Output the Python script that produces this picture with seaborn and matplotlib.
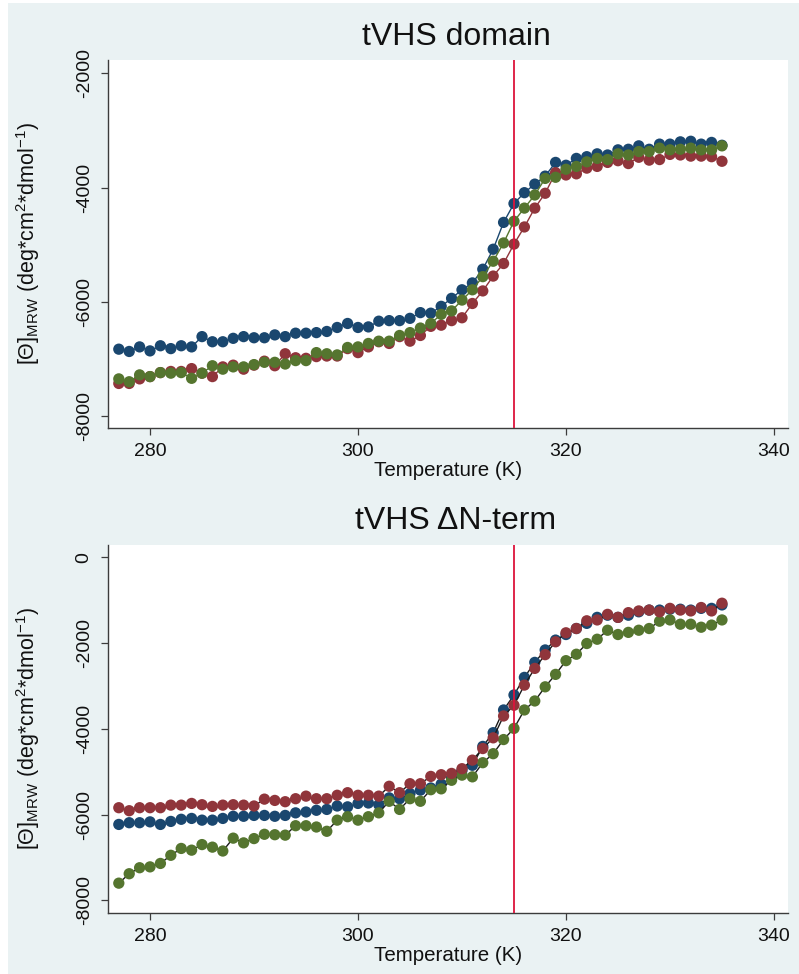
import matplotlib
matplotlib.use("Agg")
import matplotlib.pyplot as plt
import seaborn as sns
import pandas as pd

# Temperature scan (K)
temperature = [277, 278, 279, 280, 281, 282, 283, 284, 285, 286, 287, 288, 289, 290,
               291, 292, 293, 294, 295, 296, 297, 298, 299, 300, 301, 302, 303, 304,
               305, 306, 307, 308, 309, 310, 311, 312, 313, 314, 315, 316, 317, 318,
               319, 320, 321, 322, 323, 324, 325, 326, 327, 328, 329, 330, 331, 332,
               333, 334, 335]

# tVHS domain: mean residue ellipticity
domain_navy = [-6830, -6870, -6790, -6860, -6770, -6820, -6770, -6790, -6610, -6700,
               -6700, -6640, -6610, -6630, -6630, -6580, -6610, -6550, -6550, -6540,
               -6520, -6450, -6380, -6450, -6440, -6340, -6330, -6330, -6290, -6190,
               -6200, -6080, -5940, -5790, -5670, -5430, -5080, -4610, -4280, -4090,
               -3940, -3800, -3560, -3610, -3490, -3460, -3410, -3430, -3340, -3330,
               -3270, -3330, -3240, -3240, -3200, -3190, -3240, -3210, -3260]
domain_maroon = [-7430, -7430, -7350, -7310, -7240, -7220, -7220, -7170, -7250, -7310,
                 -7140, -7110, -7180, -7110, -7040, -7120, -6910, -6980, -6990, -6960,
                 -6950, -6950, -6820, -6890, -6790, -6700, -6730, -6610, -6690, -6590,
                 -6430, -6410, -6330, -6280, -6030, -5810, -5550, -5330, -4990, -4690,
                 -4360, -4100, -3740, -3780, -3760, -3660, -3630, -3560, -3530, -3580,
                 -3470, -3520, -3510, -3420, -3430, -3450, -3450, -3460, -3540]
domain_green = [-7350, -7400, -7280, -7310, -7240, -7250, -7240, -7340, -7250, -7120,
                -7180, -7140, -7140, -7100, -7060, -7060, -7090, -7030, -7030, -6890,
                -6910, -6930, -6800, -6790, -6730, -6690, -6690, -6590, -6540, -6460,
                -6380, -6220, -6160, -5970, -5790, -5560, -5290, -4970, -4590, -4360,
                -4130, -3840, -3820, -3680, -3630, -3550, -3490, -3510, -3410, -3430,
                -3370, -3370, -3310, -3340, -3330, -3310, -3340, -3340, -3270]

# tVHS delta N-term: mean residue ellipticity
nterm_navy = [-6230, -6190, -6190, -6170, -6230, -6160, -6110, -6090, -6130, -6130,
              -6090, -6040, -6040, -6020, -6020, -6040, -6020, -5960, -5940, -5900,
              -5880, -5800, -5820, -5740, -5730, -5770, -5610, -5630, -5510, -5430,
              -5380, -5290, -5140, -4970, -4850, -4410, -4090, -3560, -3210, -2800,
              -2450, -2160, -1930, -1800, -1660, -1540, -1400, -1350, -1400, -1350,
              -1270, -1230, -1230, -1210, -1210, -1230, -1190, -1190, -1110]
nterm_maroon = [-5840, -5910, -5840, -5840, -5840, -5780, -5780, -5740, -5770, -5810,
                -5780, -5770, -5780, -5800, -5640, -5670, -5700, -5630, -5570, -5630,
                -5630, -5550, -5490, -5550, -5550, -5570, -5340, -5490, -5280, -5280,
                -5110, -5070, -5040, -4930, -4730, -4460, -4210, -3700, -3450, -2980,
                -2590, -2270, -1970, -1760, -1660, -1480, -1460, -1330, -1400, -1290,
                -1250, -1230, -1270, -1190, -1230, -1250, -1170, -1250, -1070]
nterm_green = [-7600, -7380, -7240, -7220, -7140, -6950, -6790, -6830, -6700, -6760,
               -6850, -6550, -6660, -6560, -6460, -6470, -6480, -6260, -6260, -6290,
               -6390, -6130, -6050, -6130, -6050, -5960, -5690, -5880, -5630, -5690,
               -5420, -5400, -5200, -5080, -5120, -4790, -4580, -4250, -3990, -3560,
               -3350, -3020, -2730, -2410, -2260, -2010, -1910, -1700, -1800, -1750,
               -1700, -1660, -1490, -1460, -1560, -1560, -1630, -1580, -1460]

panel_titles = ["tVHS domain", "tVHS \u0394N-term"]
x_ticks = [280, 300, 320, 340]
y_ticks_top = [-2000, -4000, -6000, -8000]
y_ticks_bottom = [0, -2000, -4000, -6000, -8000]
midpoint_temp = 315

NAVY = "#1A476F"
MAROON = "#90353B"
GREEN = "#55752F"
BG = "#EAF2F3"

sns.set_theme(style="white")
plt.rcParams["font.family"] = ["Liberation Sans", "DejaVu Sans"]
plt.rcParams["mathtext.fontset"] = "custom"
plt.rcParams["mathtext.rm"] = "Liberation Sans"
plt.rcParams["axes.unicode_minus"] = False

W, H = 799, 974
fig = plt.figure(figsize=(W / 100, H / 100), dpi=100, facecolor=BG)
# thin white margin along the left and top edges
fig.patches.append(plt.Rectangle((0, 0), 8 / W, 1, transform=fig.transFigure,
                                 facecolor="white", edgecolor="none", zorder=-1))
fig.patches.append(plt.Rectangle((0, 1 - 3 / H), 1, 3 / H, transform=fig.transFigure,
                                 facecolor="white", edgecolor="none", zorder=-1))


def make_axes(top_px, bottom_px):
    return fig.add_axes([108 / W, 1 - bottom_px / H, 680 / W, (bottom_px - top_px) / H])


ax_top = make_axes(60, 428)
ax_bot = make_axes(545, 913)

ylabel = ("[\u0398]$_{\\mathregular{MRW}}$ (deg*cm$^{\\mathregular{2}}$"
          "*dmol$^{\\mathregular{-1}}$)")


def draw_panel(ax, series, line_colors, ylim, yticks, title, title_y):
    for i, (vals, col, lcol) in enumerate(zip(series["values"], series["colors"], line_colors)):
        df = pd.DataFrame({"T": temperature, "v": vals})
        sns.lineplot(data=df, x="T", y="v", ax=ax, color=lcol, lw=1.0,
                     estimator=None, sort=False, zorder=2 + 2 * i)
        sns.scatterplot(data=df, x="T", y="v", ax=ax, color=col, s=66,
                        edgecolor="none", linewidth=0, zorder=3 + 2 * i)
    ax.axvline(midpoint_temp, color="#DC143C", lw=1.3, zorder=10)
    ax.set_xlim(275.96, 341.35)
    ax.set_ylim(*ylim)
    ax.set_xticks(x_ticks)
    ax.set_yticks(yticks)
    ax.set_facecolor("white")
    for s in ["top", "right"]:
        ax.spines[s].set_visible(False)
    for s in ["left", "bottom"]:
        ax.spines[s].set_color("#3C3C3C")
        ax.spines[s].set_linewidth(1.0)
    ax.tick_params(axis="both", which="major", length=5, width=0.9, color="#3C3C3C",
                   labelsize=14, labelcolor="#111111", direction="out")
    ax.tick_params(axis="x", pad=6, bottom=True)
    ax.tick_params(axis="y", pad=6, left=True)
    for lab in ax.get_yticklabels():
        lab.set_rotation(90)
        lab.set_va("center")
    ax.set_xlabel("Temperature (K)", fontsize=14.8, color="#111111")
    ax.xaxis.set_label_coords(0.5, -0.09)
    ax.set_ylabel(ylabel, fontsize=15.5, color="#111111")
    ax.yaxis.set_label_coords(-0.097, 0.5)
    fig.text(456 / W, 1 - title_y / H, title, fontsize=23, ha="center", va="center",
             color="#111111")


draw_panel(ax_top,
           {"values": [domain_navy, domain_maroon, domain_green],
            "colors": [NAVY, MAROON, GREEN]},
           [NAVY, MAROON, GREEN],
           (-8210, -1767), y_ticks_top, panel_titles[0], 37)

draw_panel(ax_bot,
           {"values": [nterm_navy, nterm_green, nterm_maroon],
            "colors": [NAVY, GREEN, MAROON]},
           ["#1a1a1a", "#1a1a1a", "#1a1a1a"],
           (-8296, 288), y_ticks_bottom, panel_titles[1], 521)

fig.savefig("out.png", dpi=100, facecolor=BG)
